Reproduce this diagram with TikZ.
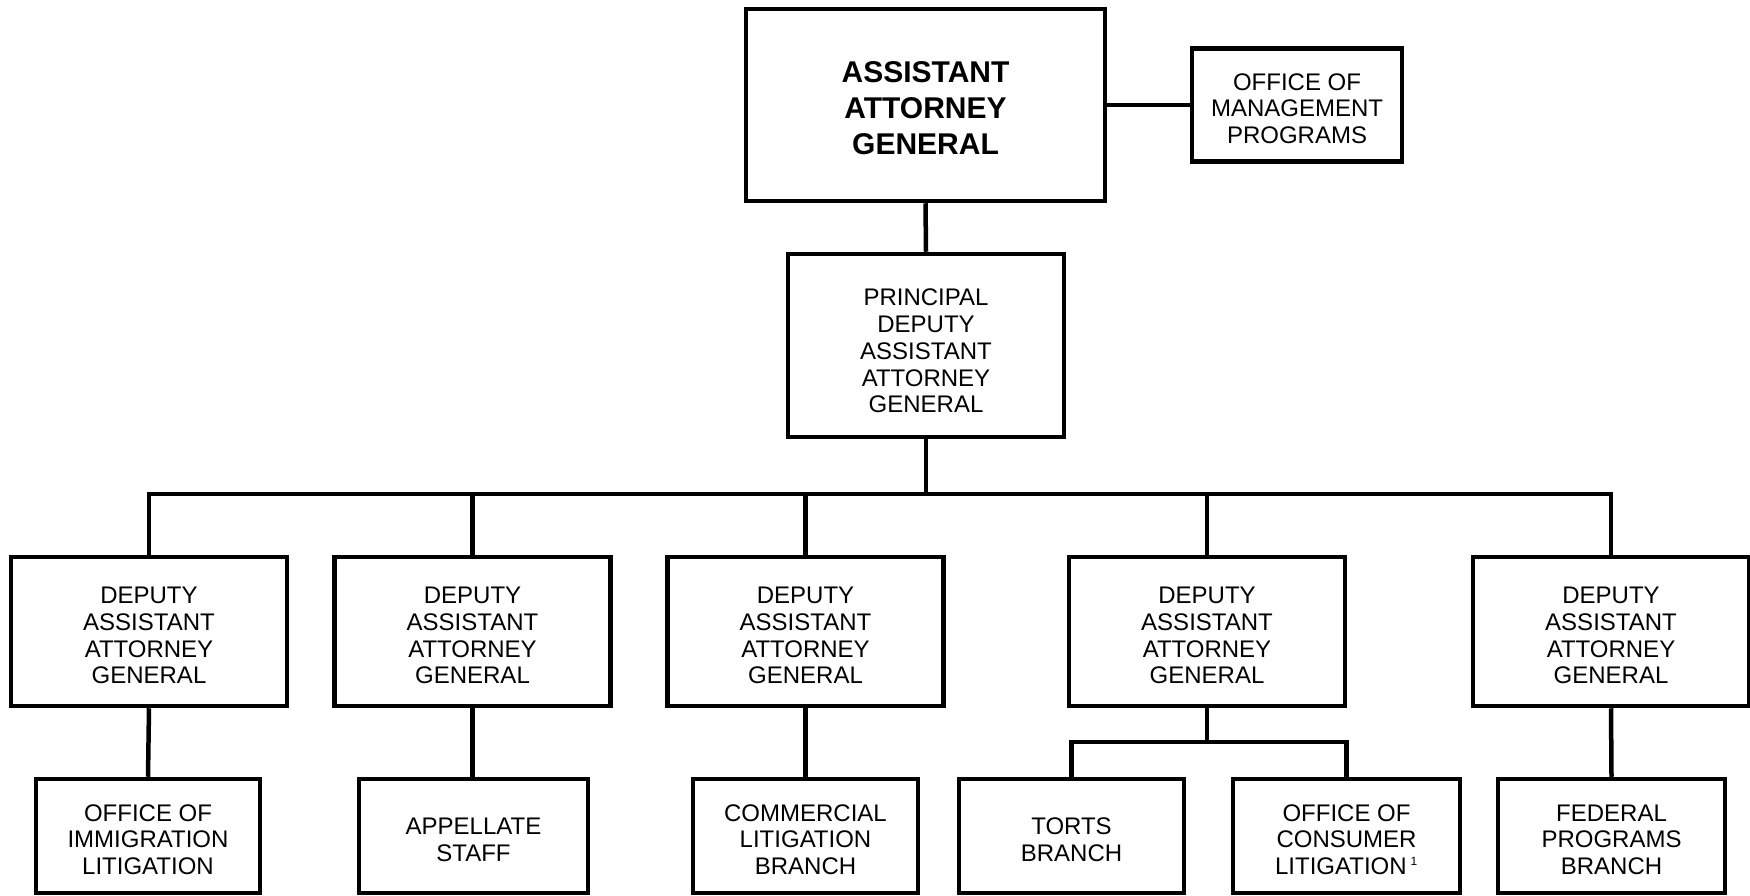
\documentclass[tikz,border=0pt]{standalone}
\usepackage{fontspec}
\setmainfont{Liberation Sans}
\newcommand\tpad[1]{\rule{0pt}{#1}}
\begin{document}
\begin{tikzpicture}[x=1pt,y=-1pt,
  box/.style={draw,line width=4.5pt,inner sep=0pt,align=center,
    font=\fontsize{24}{26.7}\selectfont},
  conn/.style={line width=4.5pt,line join=miter}]
\useasboundingbox (0,0) rectangle (1750,896);
% top
\node[box,minimum width=359pt,minimum height=192pt,font=\fontsize{30}{36}\selectfont\bfseries] (aag) at (925.5,105) {\tpad{27.5pt}ASSISTANT\\ATTORNEY\\GENERAL};
\node[box,minimum width=210pt,minimum height=113pt] (omp) at (1297,105) {\tpad{24pt}OFFICE OF\\MANAGEMENT\\PROGRAMS};
\node[box,minimum width=276pt,minimum height=183pt] (pd) at (926,345.5) {\tpad{28pt}PRINCIPAL\\DEPUTY\\ASSISTANT\\ATTORNEY\\GENERAL};
% deputies
\foreach \n/\x in {d1/149,d2/472.5,d3/805.5,d4/1207,d5/1611}{
  \node[box,minimum width=276pt,minimum height=149pt] (\n) at (\x,631.5) {\tpad{25pt}DEPUTY\\ASSISTANT\\ATTORNEY\\GENERAL};
}
% branches
\node[box,minimum width=224pt,minimum height=114pt] (oil) at (148,836) {\tpad{24pt}OFFICE OF\\IMMIGRATION\\LITIGATION};
\node[box,minimum width=229pt,minimum height=114pt] (app) at (473.5,836) {\tpad{24pt}APPELLATE\\STAFF};
\node[box,minimum width=225pt,minimum height=114pt] (clb) at (805.5,836) {\tpad{24pt}COMMERCIAL\\LITIGATION\\BRANCH};
\node[box,minimum width=225pt,minimum height=114pt] (torts) at (1071.5,836) {\tpad{24pt}TORTS\\BRANCH};
\node[box,minimum width=227pt,minimum height=114pt] (ocl) at (1346.5,836) {\tpad{24pt}OFFICE OF\\CONSUMER\\LITIGATION\,\textsuperscript{\fontsize{12}{12}\selectfont 1}};
\node[box,minimum width=227pt,minimum height=114pt] (fpb) at (1611.5,836) {\tpad{24pt}FEDERAL\\PROGRAMS\\BRANCH};
% connectors
\coordinate (busy) at (0,494);
\coordinate (suby) at (0,742);
\draw[conn] (aag.east) -- (omp.west);
\draw[conn] (aag.south) -- (pd.north);
\draw[conn] (pd.south) -- (pd.south |- busy);
\draw[conn] (d1.north) -- (d1.north |- busy) -- (d5.north |- busy) -- (d5.north);
\foreach \n in {d2,d3,d4}{ \draw[conn] (\n.north) -- (\n.north |- busy); }
\draw[conn] (d1.south) -- (oil.north);
\draw[conn] (d2.south) -- (d2.south |- app.north);
\draw[conn] (d3.south) -- (clb.north);
\draw[conn] (d5.south) -- (fpb.north);
\draw[conn] (d4.south) -- (d4.south |- suby);
\draw[conn] (torts.north) -- (torts.north |- suby) -- (ocl.north |- suby) -- (ocl.north);
\end{tikzpicture}
\end{document}
